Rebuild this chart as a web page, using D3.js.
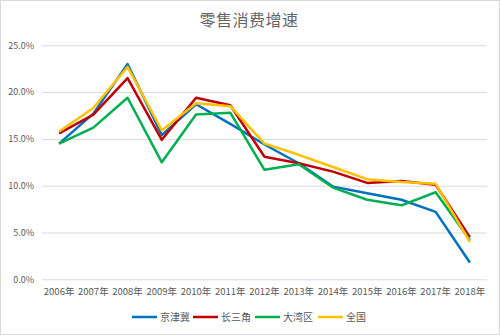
<!DOCTYPE html>
<html>
<head>
<meta charset="utf-8">
<script src="https://cdn.jsdelivr.net/npm/d3@7/dist/d3.min.js"></script>
<style>
  html, body { margin: 0; padding: 0; background: #fff; }
  svg { display: block; }
</style>
</head>
<body>
<svg id="chart" width="500" height="335"></svg>
<script>
// Retail sales growth by region, 2006–2018 (%)
const years = ["2006年","2007年","2008年","2009年","2010年","2011年","2012年","2013年","2014年","2015年","2016年","2017年","2018年"];
const seriesNames = ["京津冀", "长三角", "大湾区", "全国"];
const jingjinji = [14.5, 17.7, 23.0, 15.4, 18.7, 16.6, 14.4, 12.4, 9.9, 9.2, 8.5, 7.2, 1.8];
const changsanjiao = [15.6, 17.6, 21.5, 14.9, 19.4, 18.6, 13.1, 12.4, 11.5, 10.3, 10.5, 10.1, 4.5];
const dawanqu = [14.5, 16.2, 19.4, 12.5, 17.6, 17.8, 11.7, 12.3, 9.8, 8.5, 7.9, 9.3, 4.2];
const quanguo = [15.8, 18.3, 22.7, 15.9, 18.8, 18.5, 14.5, 13.3, 12.0, 10.7, 10.4, 10.2, 4.0];
const yTicks = [0, 5, 10, 15, 20, 25];
const colors = ["#0070C0", "#C00000", "#00B050", "#FFC000"];

const series = [jingjinji, changsanjiao, dawanqu, quanguo];
const font = "'Noto Sans CJK SC', 'Noto Sans', sans-serif";
const textColor = "#595959";

const svg = d3.select("#chart");
const W = 500, H = 335;

// chart area frame
svg.append("rect")
  .attr("x", 0.5).attr("y", 0.5)
  .attr("width", W - 1).attr("height", H - 1)
  .attr("fill", "#fff").attr("stroke", "#D9D9D9");

const plot = { left: 42, right: 487, top: 45.3, bottom: 279.3 };

const x = d3.scaleBand().domain(years).range([plot.left, plot.right]);
const y = d3.scaleLinear().domain([0, 25]).range([plot.bottom, plot.top]);

// title
svg.append("text")
  .attr("x", 249).attr("y", 26)
  .attr("text-anchor", "middle")
  .attr("font-family", font).attr("font-size", 16)
  .attr("fill", "#666")
  .attr("letter-spacing", 0.5)
  .text("零售消费增速");

// horizontal gridlines + y labels
const yAxis = d3.axisLeft(y)
  .tickValues(yTicks)
  .tickSize(-(plot.right - plot.left))
  .tickPadding(8)
  .tickFormat(d => d.toFixed(1) + "%");

const gy = svg.append("g")
  .attr("transform", `translate(${plot.left},0)`)
  .call(yAxis);
gy.select(".domain").remove();
gy.selectAll(".tick line").attr("stroke", "#D9D9D9").attr("stroke-width", 1);
gy.selectAll(".tick text")
  .attr("font-family", font).attr("font-size", 9)
  .attr("fill", textColor);

// x labels
const xAxis = d3.axisBottom(x).tickSize(0).tickPadding(9);
const gx = svg.append("g")
  .attr("transform", `translate(0,${plot.bottom})`)
  .call(xAxis);
gx.select(".domain").remove();
gx.selectAll(".tick text")
  .attr("font-family", font).attr("font-size", 9.5)
  .attr("fill", textColor);

// lines
const line = d3.line()
  .x((d, i) => x(years[i]) + x.bandwidth() / 2)
  .y(d => y(d));

series.forEach((s, i) => {
  svg.append("path")
    .datum(s)
    .attr("fill", "none")
    .attr("stroke", colors[i])
    .attr("stroke-width", 2.5)
    .attr("stroke-linejoin", "round")
    .attr("d", line);
});

// legend
const legend = svg.append("g").attr("transform", "translate(0,317)");
const legendX = [132, 193, 255, 318];
seriesNames.forEach((name, i) => {
  const g = legend.append("g").attr("transform", `translate(${legendX[i]},0)`);
  g.append("line")
    .attr("x1", 0).attr("x2", 25)
    .attr("y1", 0).attr("y2", 0)
    .attr("stroke", colors[i]).attr("stroke-width", 2.5);
  g.append("text")
    .attr("x", 28).attr("y", 0)
    .attr("dy", "0.35em")
    .attr("font-family", font).attr("font-size", 10)
    .attr("fill", textColor)
    .text(name);
});
</script>
</body>
</html>
